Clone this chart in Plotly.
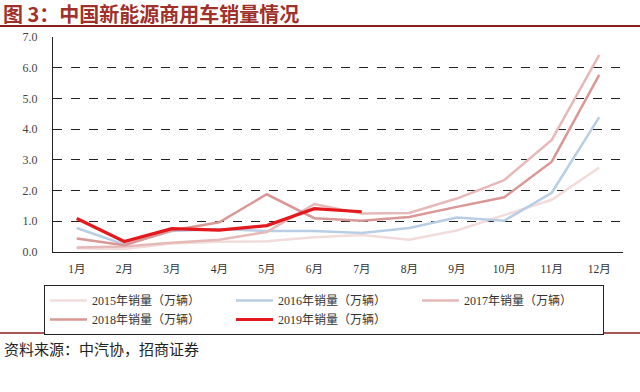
import plotly.graph_objects as go

months = ["1月", "2月", "3月", "4月", "5月", "6月", "7月", "8月", "9月", "10月", "11月", "12月"]
s2015 = [0.12, 0.10, 0.28, 0.33, 0.35, 0.48, 0.55, 0.40, 0.70, 1.20, 1.70, 2.75]
s2016 = [0.78, 0.25, 0.68, 0.75, 0.68, 0.68, 0.62, 0.78, 1.12, 1.02, 1.93, 4.39]
s2017 = [0.15, 0.18, 0.30, 0.40, 0.65, 1.56, 1.25, 1.27, 1.74, 2.34, 3.65, 6.42]
s2018 = [0.44, 0.22, 0.70, 0.97, 1.88, 1.10, 1.02, 1.14, 1.47, 1.78, 2.94, 5.77]
s2019 = [1.09, 0.34, 0.76, 0.71, 0.86, 1.41, 1.31]

series = [
    ("2015年销量（万辆）", s2015, "#F2DCDB", 2.5),
    ("2016年销量（万辆）", s2016, "#B9CDE5", 2.5),
    ("2017年销量（万辆）", s2017, "#E6B9B8", 2.5),
    ("2018年销量（万辆）", s2018, "#D99795", 2.5),
    ("2019年销量（万辆）", s2019, "#E3191E", 3.2),
]

title_text = "图 3：中国新能源商用车销量情况"
source_text = "资料来源：中汽协，招商证券"

W, H = 640, 392
L, R, T, B = 53, 623, 37, 252
pw, ph = R - L, B - T

def px(x):
    return (x - L) / pw

def py(y):
    return (B - y) / ph

serif = "Liberation Serif, Noto Sans CJK SC, serif"
cjk = "Noto Sans CJK SC, sans-serif"

fig = go.Figure()
for name, vals, color, width in series:
    fig.add_trace(go.Scatter(
        x=months[:len(vals)], y=vals, name=name, mode="lines",
        line=dict(color=color, width=width),
    ))

fig.update_layout(
    width=W, height=H,
    margin=dict(l=L, r=W - R, t=T, b=H - B),
    paper_bgcolor="white", plot_bgcolor="white",
    showlegend=True,
    legend=dict(
        orientation="h", x=px(44), y=py(285), xanchor="left", yanchor="top",
        bordercolor="#222", borderwidth=1, bgcolor="white",
        font=dict(family=serif, size=12, color="#333"),
        itemwidth=37, entrywidth=134, traceorder="normal",
    ),
    title=dict(
        text="<b>" + title_text + "</b>", x=3 / W, xanchor="left",
        y=1 - 15 / H, yanchor="middle",
        font=dict(family=cjk, size=20, color="#A0302A"),
    ),
    xaxis=dict(
        type="category", categoryorder="array", categoryarray=months,
        range=[-0.5, 11.5], showgrid=False, showline=True, linecolor="#222",
        linewidth=1, ticks="", tickfont=dict(family=serif, size=11.5, color="#333"),
        ticklabelstandoff=6, zeroline=False,
    ),
    yaxis=dict(
        range=[0, 7], dtick=1, tickformat=".1f", showline=True, linecolor="#222",
        linewidth=1, showgrid=True, gridcolor="#222", griddash="dash", gridwidth=1,
        zeroline=False, ticks="", tickfont=dict(family=serif, size=12, color="#444"),
        ticklabelstandoff=12,
    ),
    shapes=[
        dict(type="line", xref="paper", yref="paper", x0=px(0), x1=px(640),
             y0=py(26), y1=py(26), line=dict(color="#8B1E1E", width=2)),
        dict(type="line", xref="paper", yref="paper", x0=px(0), x1=px(640),
             y0=py(333), y1=py(333), line=dict(color="#8B1E1E", width=1.5)),
    ],
    annotations=[
        dict(text=source_text, xref="paper", yref="paper", x=px(2), y=py(348),
             xanchor="left", yanchor="middle", showarrow=False,
             font=dict(family=cjk, size=15, color="#222")),
    ],
)

fig.write_html("out.html", config={"displayModeBar": False},
               post_script="document.body.style.margin='0';")
